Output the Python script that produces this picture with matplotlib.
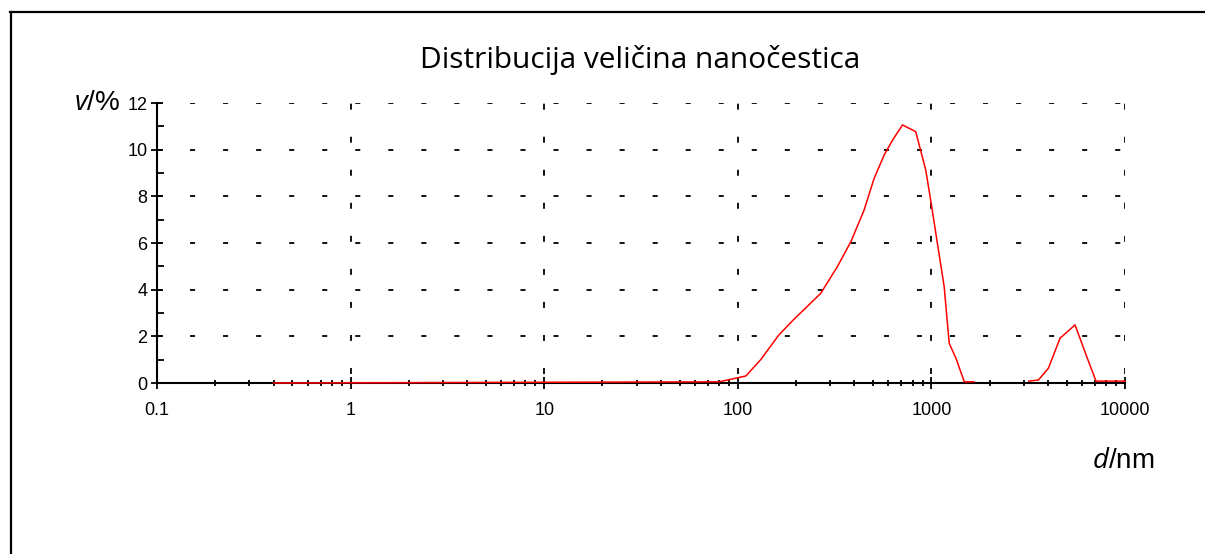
import numpy as np
import matplotlib.pyplot as plt
from matplotlib.lines import Line2D
from matplotlib.ticker import FixedLocator, LogLocator, NullFormatter

# Particle size distribution (by volume)
d_nm = [0.4, 80, 92, 110, 131, 163, 195, 268, 327, 384, 449, 506, 570, 630,
        709, 830, 935, 991, 1164, 1236, 1339, 1479, 1660,
        np.nan,
        3181, 3573, 4019, 4619, 5521, 6343, 7085, 10000]
v_pct = [0, 0.05, 0.16, 0.3, 0.99, 2.06, 2.73, 3.84, 4.99, 6.06, 7.41, 8.77, 9.77, 10.41,
         11.06, 10.77, 9.13, 7.84, 4.13, 1.70, 1.06, 0.05, 0.05,
         np.nan,
         0.08, 0.13, 0.63, 1.92, 2.49, 1.13, 0.08, 0.08]

x_ticks = [0.1, 1, 10, 100, 1000, 10000]
x_labels = ['0.1', '1', '10', '100', '1000', '10000']
y_ticks = [0, 2, 4, 6, 8, 10, 12]

plt.rcParams['font.family'] = ['Liberation Sans', 'DejaVu Sans']
plt.rcParams['mathtext.fontset'] = 'custom'
plt.rcParams['mathtext.it'] = 'Open Sans:italic'
plt.rcParams['mathtext.rm'] = 'Open Sans'

fig = plt.figure(figsize=(12.05, 5.54), dpi=100)
ax = fig.add_axes([157 / 1205, 1 - 383 / 554, 968 / 1205, 280 / 554])

ax.plot(d_nm, v_pct, color='red', lw=1.1, zorder=4, clip_on=False)

ax.set_xscale('log')
ax.set_xlim(0.1, 10000)
ax.set_ylim(0, 12)

ax.xaxis.set_major_locator(FixedLocator(x_ticks))
ax.set_xticklabels(x_labels)
ax.xaxis.set_minor_locator(LogLocator(base=10, subs=np.arange(2, 10)))
ax.xaxis.set_minor_formatter(NullFormatter())
ax.set_yticks(y_ticks)
ax.yaxis.set_minor_locator(FixedLocator([1, 3, 5, 7, 9, 11]))

ax.tick_params(which='major', direction='inout', length=8, width=1.3, labelsize=13, colors='black')
ax.tick_params(which='minor', direction='inout', length=5, width=1.3)
ax.tick_params(axis='y', which='minor', direction='in', length=5)
ax.tick_params(axis='x', which='major', pad=10)
ax.tick_params(axis='y', which='major', pad=3)

for s in ['top', 'right']:
    ax.spines[s].set_visible(False)
for s in ['left', 'bottom']:
    ax.spines[s].set_linewidth(1.5)
    ax.spines[s].set_zorder(3)

ax.grid(True, which='major', axis='y', color='black', lw=1.3, linestyle=(0, (2.8, 15.5)))
ax.grid(True, which='major', axis='x', color='black', lw=1.3, linestyle=(13.3, (3.3, 15)))

fig.text(640 / 1205, 1 - 68 / 554, 'Distribucija veličina nanočestica',
         family='Open Sans', fontsize=21.5, ha='center', va='baseline')
fig.text(97 / 1205, 1 - 110 / 554, r'$v$/%', fontsize=20, ha='center', va='baseline')
fig.text(1123 / 1205, 1 - 468 / 554, r'$d$/nm', fontsize=20, ha='center', va='baseline')

# outer frame of the original screenshot
fig.add_artist(Line2D([10.5 / 1205, 10.5 / 1205], [0, 1 - 12 / 554], color='black', lw=1.6))
fig.add_artist(Line2D([10 / 1205, 1], [1 - 12 / 554, 1 - 12 / 554], color='black', lw=1.6))

fig.savefig('out.png', dpi=100)
